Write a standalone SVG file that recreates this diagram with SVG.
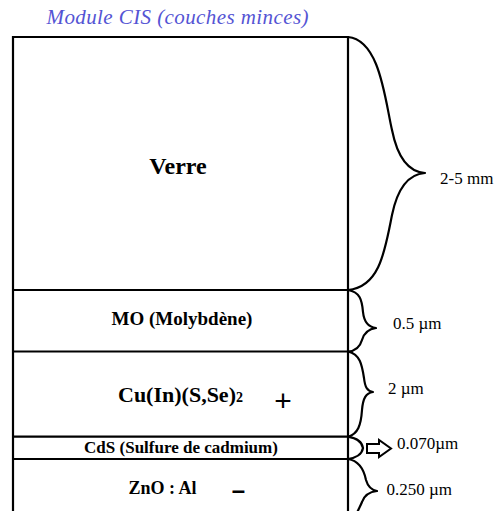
<svg xmlns="http://www.w3.org/2000/svg" width="501" height="511" viewBox="0 0 501 511">
<style>
.frame{fill:none;stroke:#000;stroke-width:2.2}
.brace{fill:none;stroke:#000;stroke-width:2.2;stroke-linejoin:round}
.lay{font-family:'Liberation Serif','DejaVu Serif',serif;font-weight:bold;fill:#000}
.dim{font-family:'Liberation Serif','DejaVu Serif',serif;font-size:17px;fill:#000}
.ttl{font-family:'Liberation Serif','DejaVu Serif',serif;font-style:italic;font-size:21px;fill:#5454d4}
.sign{font-family:'Liberation Sans',Arial,sans-serif;fill:#000;text-anchor:middle}
</style>
<rect width="501" height="511" fill="#fff"/>
<text class="ttl" x="46.5" y="24.3" textLength="262" lengthAdjust="spacing">Module CIS (couches minces)</text>
<path class="frame" d="M13,512 V37 H348 V512"/>
<g id="verre">
<text class="lay" x="178" y="174" font-size="24" text-anchor="middle">Verre</text>
</g>
<g id="mo">
<line class="frame" x1="13" y1="290" x2="348" y2="290"/>
<text class="lay" x="182" y="325" font-size="19" text-anchor="middle">MO (Molybdène)</text>
</g>
<g id="cis">
<line class="frame" x1="13" y1="351.5" x2="348" y2="351.5"/>
<text class="lay" x="118" y="401.5" font-size="22">Cu(In)(S,Se)<tspan font-size="14">2</tspan></text>
<text class="sign" x="283" y="410.5" font-size="30">+</text>
</g>
<g id="cds">
<line class="frame" x1="13" y1="436.7" x2="348" y2="436.7"/>
<text class="lay" x="181" y="453.3" font-size="17" text-anchor="middle">CdS (Sulfure de cadmium)</text>
</g>
<g id="zno">
<line class="frame" x1="13" y1="459" x2="348" y2="459"/>
<text class="lay" x="128.5" y="493.5" font-size="18">ZnO : Al</text>
<text class="sign" x="238.5" y="497.5" font-size="24" font-weight="bold">–</text>
</g>
<g id="connectors">
<path class="brace" d="M348,37 C380,40 385,100 392,130 C398,160 410,172 425,173 C410,174 398,186 392,215 C385,250 380,287 348,290"/>
<path class="brace" d="M348,290 C360,292 362,300 363,312 C364,322 368,327 376,328 C368,329 364,333 362,340 C360,347 356,351 348,351.5"/>
<path class="brace" d="M348,351.5 C360,354 362,365 364,378 C365,387 367,391 373,392 C366,393 363,398 362,410 C361,425 358,434 348,436.7"/>
<path class="brace" d="M348,436.7 C356,438 362,442 363,448 C362,454 356,458 348,459"/>
<path class="brace" d="M348,459 C360,461 364,470 366,480 C368,487 371,490 377,491 C368,492 364,496 362,502 C360,507 358,510 357,513"/>
<polygon points="367,444 379,444 379,440 391,448.5 379,457 379,453 367,453" fill="#fff" stroke="#000" stroke-width="2" stroke-linejoin="miter"/>
</g>
<g id="labels">
<text class="dim" x="440" y="184">2-5 mm</text>
<text class="dim" x="393" y="328.5">0.5 µm</text>
<text class="dim" x="388" y="394">2 µm</text>
<text class="dim" x="397" y="448.5">0.070µm</text>
<text class="dim" x="386.5" y="494.5">0.250 µm</text>
</g>
</svg>
